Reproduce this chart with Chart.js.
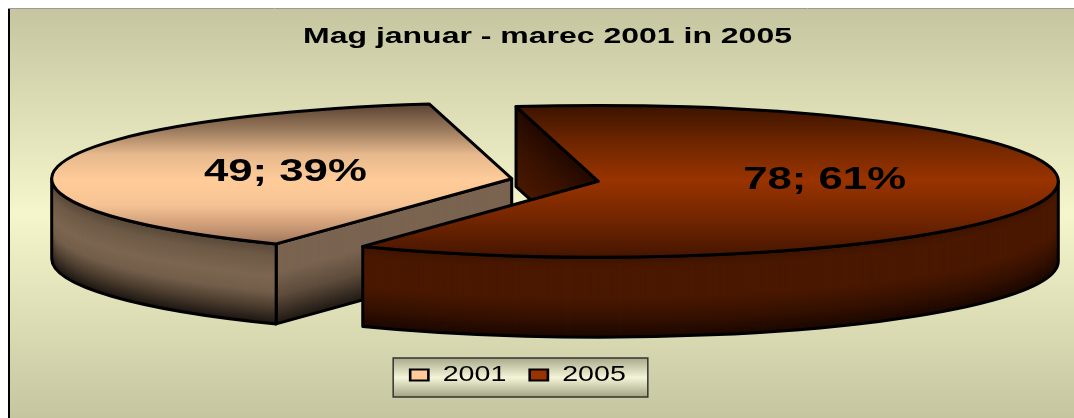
<!DOCTYPE html>
<html><head><meta charset="utf-8">
<style>html,body{margin:0;padding:0;background:#fff}#wrap{width:1074px;height:418px;position:relative}canvas{display:block}</style>
<script src="https://cdn.jsdelivr.net/npm/chart.js@4.4.0/dist/chart.umd.min.js"></script>
</head><body><div id="wrap"><canvas id="c" width="1074" height="418"></canvas></div>
<script>
// ---- data ----
const titleText = 'Mag januar - marec 2001 in 2005';
const categories = ['2001', '2005'];
const values = [49, 78];

// ---- styles ----
const legendColors = ['#ffcc99', '#993300'];
const topStops = [
  [[0,'#5a4232'],[0.17,'#9a7a5c'],[0.33,'#e6b88c'],[0.5,'#ffcc99'],[0.66,'#f6c494'],[0.83,'#c49472'],[1,'#7c5a44']],
  [[0,'#3a1200'],[0.25,'#6e2600'],[0.5,'#993300'],[0.75,'#742600'],[1,'#461600']]
];
const rimStops = [
  [[0,'#584838'],[0.15,'#6e5a46'],[0.4,'#7c6650'],[0.6,'#735e4a'],[0.8,'#4a3c2e'],[1,'#1a1410']],
  [[0,'#3e1400'],[0.12,'#4a1800'],[0.5,'#4a1800'],[0.75,'#361100'],[1,'#1a0700']]
];
const radialStops = [
  [[0,'#7a6450'],[0.35,'#7a6450'],[0.65,'#5e4c3c'],[1,'#1e1812']],
  [[0,'#220800'],[0.5,'#3a1200'],[1,'#4a1800']]
];
const FONT = "'Liberation Sans', Arial, sans-serif";

// ---- layout of the 3D projection ----
const CX = 555, CY = 180, K = 0.165, DEPTH = 80, EXPLODE = 44;
const TAU = Math.PI * 2;

function grad(ctx, y0, y1, stops) {
  const g = ctx.createLinearGradient(0, y0, 0, y1);
  stops.forEach(([o, c]) => g.addColorStop(o, c));
  return g;
}
function hexRgb(h) { return [1, 3, 5].map(i => parseInt(h.slice(i, i + 2), 16)); }
function lerpStops(stops, t) {
  for (let i = 0; i < stops.length - 1; i++) {
    const [t0, c0] = stops[i], [t1, c1] = stops[i + 1];
    if (t <= t1 || i === stops.length - 2) {
      const u = Math.max(0, Math.min(1, (t - t0) / (t1 - t0)));
      const a = hexRgb(c0), b = hexRgb(c1);
      return 'rgb(' + a.map((v, k) => Math.round(v + (b[k] - v) * u)).join(',') + ')';
    }
  }
  return stops[stops.length - 1][1];
}

function stretchDraw(box, screenCx, s, before) {
  if (!box || box._stretched) return;
  const orig = box.draw.bind(box);
  box.draw = function (area) {
    const ctx = this.ctx;
    const natCx = (this.left + this.right) / 2;
    if (before) before(this, natCx);
    ctx.save();
    ctx.translate(screenCx, 0); ctx.scale(s, 1); ctx.translate(-natCx, 0);
    orig(area);
    ctx.restore();
  };
  box._stretched = true;
}

const LEG_CX = 518, LEG_S = 1.3;

const frame = {
  id: 'frame',
  beforeDraw(chart) {
    const ctx = chart.ctx;
    ctx.save();
    ctx.fillStyle = '#fff';
    ctx.fillRect(0, 0, chart.width, chart.height);
    ctx.fillStyle = grad(ctx, 9, chart.height, [[0,'#c5c6a0'],[0.5,'#f6f6cc'],[1,'#c5c6a0']]);
    ctx.fillRect(9, 9, chart.width, chart.height);
    ctx.strokeStyle = '#9a9a9a'; ctx.lineWidth = 1;
    ctx.beginPath(); ctx.moveTo(8, 8.5); ctx.lineTo(chart.width, 8.5); ctx.stroke();
    ctx.strokeStyle = '#000'; ctx.lineWidth = 2;
    ctx.beginPath(); ctx.moveTo(9, 9); ctx.lineTo(9, chart.height); ctx.stroke();
    ctx.restore();

    stretchDraw(chart.titleBlock, 547.5, 1.454);
    stretchDraw(chart.legend, LEG_CX, LEG_S, (lg, natCx) => {
      const hb = lg.legendHitBoxes;
      if (!hb || !hb.length) return;
      const l = Math.min(...hb.map(h => h.left));
      const r = Math.max(...hb.map(h => h.left + h.width));
      const t = hb[0].top, h = hb[0].height;
      const x0 = LEG_CX + (l - natCx) * LEG_S - 17;
      const x1 = LEG_CX + (r - natCx) * LEG_S + 22;
      const y0 = t - 6, y1 = t + h + 11;
      const c = lg.ctx;
      c.save();
      c.fillStyle = grad(c, y0, y1, [[0,'#a9a98a'],[0.5,'#f4f4d8'],[1,'#a4a484']]);
      c.fillRect(x0, y0, x1 - x0, y1 - y0);
      c.strokeStyle = '#333'; c.lineWidth = 1.5;
      c.strokeRect(x0, y0, x1 - x0, y1 - y0);
      c.restore();
    });
  }
};

const pie3d = {
  id: 'pie3d',
  beforeDatasetsDraw(chart) {
    const ctx = chart.ctx;
    const meta = chart.getDatasetMeta(0);
    meta.data.forEach((arc, i) => {
      const s = arc.startAngle, e = arc.endAngle, R = arc.outerRadius;
      const mid = (s + e) / 2;
      const Ry = R * K;
      const ax = CX + Math.cos(mid) * EXPLODE, ay = CY + Math.sin(mid) * EXPLODE * K;
      const pt = a => [ax + R * Math.cos(a), ay + Ry * Math.sin(a)];
      const topFill = grad(ctx, CY - Ry, CY + Ry, topStops[i]);
      ctx.save();
      ctx.lineWidth = 3; ctx.lineJoin = 'round'; ctx.strokeStyle = '#000';
      const quad = a => {
        const [px, py] = pt(a);
        for (let d = 0; d < DEPTH; d++) {
          ctx.beginPath();
          ctx.moveTo(ax, ay + d); ctx.lineTo(px, py + d); ctx.lineTo(px, py + DEPTH); ctx.lineTo(ax, ay + DEPTH);
          ctx.closePath();
          ctx.fillStyle = lerpStops(radialStops[i], d / DEPTH); ctx.fill();
        }
        ctx.beginPath();
        ctx.moveTo(ax, ay); ctx.lineTo(px, py); ctx.lineTo(px, py + DEPTH); ctx.lineTo(ax, ay + DEPTH);
        ctx.closePath();
        ctx.stroke();
      };
      if (Math.cos(s) < 0) quad(s);
      if (Math.cos(e) > 0) quad(e);
      for (let k = -1; k <= 2; k++) {
        const lo = Math.max(s, k * TAU), hi = Math.min(e, k * TAU + Math.PI);
        if (hi - lo > 1e-6) {
          for (let d = 0; d < DEPTH; d++) {
            ctx.beginPath();
            ctx.ellipse(ax, ay + d, R, Ry, 0, lo, hi, false);
            ctx.ellipse(ax, ay + DEPTH, R, Ry, 0, hi, lo, true);
            ctx.closePath();
            ctx.fillStyle = lerpStops(rimStops[i], d / DEPTH); ctx.fill();
          }
          const [hx, hy] = pt(hi);
          ctx.beginPath();
          ctx.ellipse(ax, ay, R, Ry, 0, lo, hi, false);
          ctx.lineTo(hx, hy + DEPTH);
          ctx.ellipse(ax, ay + DEPTH, R, Ry, 0, hi, lo, true);
          ctx.closePath();
          ctx.stroke();
        }
      }
      ctx.beginPath();
      ctx.moveTo(ax, ay);
      ctx.ellipse(ax, ay, R, Ry, 0, s, e, false);
      ctx.closePath();
      ctx.fillStyle = topFill; ctx.fill(); ctx.stroke();
      ctx.restore();
    });
    return false;
  },
  afterDraw(chart) {
    const ctx = chart.ctx;
    const meta = chart.getDatasetMeta(0);
    const total = values.reduce((a, b) => a + b, 0);
    meta.data.forEach((arc, i) => {
      const mid = (arc.startAngle + arc.endAngle) / 2;
      const r = EXPLODE + (arc.innerRadius + arc.outerRadius) / 2;
      const x = CX + Math.cos(mid) * r, y = CY - 4 + Math.sin(mid) * r * K * 0.5;
      const txt = values[i] + '; ' + Math.round(values[i] / total * 100) + '%';
      ctx.save();
      ctx.translate(x, y); ctx.scale(1.41, 1);
      ctx.font = 'bold 31px ' + FONT;
      ctx.fillStyle = '#000'; ctx.textAlign = 'center'; ctx.textBaseline = 'middle';
      ctx.fillText(txt, 0, 0);
      ctx.restore();
    });
  }
};

new Chart(document.getElementById('c'), {
  type: 'pie',
  data: {
    labels: categories,
    datasets: [{ data: values, backgroundColor: legendColors, borderColor: '#000', borderWidth: 3 }]
  },
  options: {
    responsive: false,
    animation: false,
    events: [],
    rotation: 210.8,
    radius: 460,
    layout: { padding: { top: 0, bottom: 22, left: 0, right: 0 } },
    plugins: {
      tooltip: { enabled: false },
      title: {
        display: true, text: titleText, color: '#000',
        font: { family: FONT, size: 22, weight: 'bold' },
        padding: { top: 24, bottom: 10 }
      },
      legend: {
        position: 'bottom',
        labels: {
          color: '#000',
          font: { family: FONT, size: 22 },
          boxWidth: 14, boxHeight: 11, padding: 18,
          generateLabels: () => categories.map((c, i) => ({
            text: c, fillStyle: legendColors[i], strokeStyle: '#000', lineWidth: 2,
            hidden: false, index: i, datasetIndex: 0
          }))
        }
      }
    }
  },
  plugins: [frame, pie3d]
});
</script>
</body></html>
